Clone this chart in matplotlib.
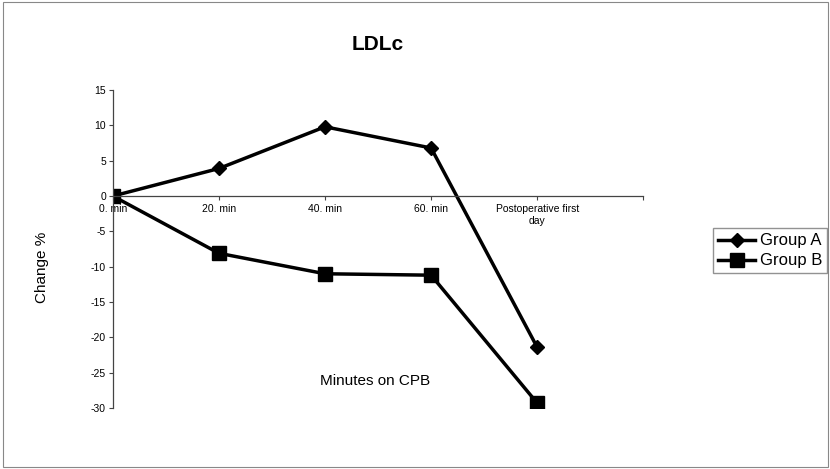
import numpy as np
import matplotlib.pyplot as plt
from matplotlib.patches import Rectangle

plt.rcParams['font.family'] = ['Liberation Sans', 'DejaVu Sans']
plt.rcParams['axes.unicode_minus'] = False

# categories on the x axis
categories = ['0. min', '20. min', '40. min', '60. min', 'Postoperative first\nday']
# change in % for both groups
group_a = [0, 3.9, 9.8, 6.8, -21.4]
group_b = [0, -8.1, -11.0, -11.2, -29.3]

fig = plt.figure(figsize=(8.3, 4.69), dpi=100)
ax = fig.add_axes([0.136, 0.130, 0.639, 0.678])

x = np.arange(len(categories))
a, = ax.plot(x, group_a, color='black', lw=2.5, marker='D', ms=7)
b, = ax.plot(x, group_b, color='black', lw=2.5, marker='s', ms=10)

ax.set_xlim(0, 5)
ax.set_ylim(-30, 15)
ax.set_yticks(np.arange(-30, 16, 5))
ax.set_xticks(np.arange(0, 6))
ax.set_xticklabels(categories + [''])

ax.spines['top'].set_visible(False)
ax.spines['right'].set_visible(False)
ax.spines['bottom'].set_position(('data', 0))
for s in ['left', 'bottom']:
    ax.spines[s].set_color('#444444')
    ax.spines[s].set_linewidth(0.9)
ax.tick_params(axis='y', labelsize=7.5, length=3, color='#444444', pad=2)
ax.tick_params(axis='x', labelsize=7.5, length=3, color='#444444', pad=3)
for lbl in ax.get_xticklabels():
    lbl.set_verticalalignment('top')

ax.set_title('LDLc', fontsize=15, fontweight='bold', y=1.1)
fig.text(0.051, 0.43, 'Change %', rotation=90, fontsize=11, ha='center', va='center')
fig.text(0.452, 0.188, 'Minutes on CPB', fontsize=11, ha='center', va='center')

fig.legend([a, b], ['Group A', 'Group B'], loc='center',
           bbox_to_anchor=(0.928, 0.465), fontsize=12, frameon=True,
           fancybox=False, edgecolor='#777777', handlelength=2.2,
           borderpad=0.3, labelspacing=0.3, handletextpad=0.3)

fig.patches.append(Rectangle((0.004, 0.004), 0.994, 0.992, transform=fig.transFigure,
                             fill=False, edgecolor='#888888', lw=0.8))

fig.savefig('out.png', dpi=100)
